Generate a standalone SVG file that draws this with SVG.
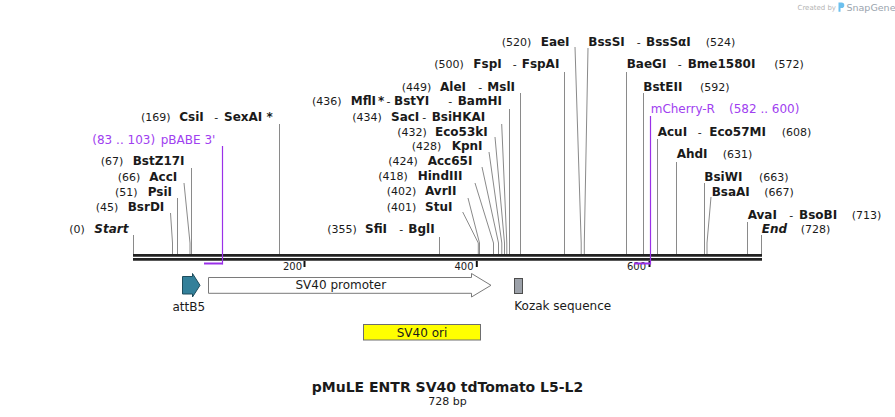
<svg xmlns="http://www.w3.org/2000/svg" width="895" height="417" viewBox="0 0 895 417">
<style>
text{font-family:"DejaVu Sans",Verdana,sans-serif;fill:#1a1a1a}
.n{font-size:11px}
.b{font-size:12px;font-weight:bold}
.h{font-size:11px}
.bi{font-size:12px;font-weight:bold;font-style:italic}
.p{font-size:12px;fill:#a040f0}
.f{font-size:12px}
.t{font-size:10px}
.cut{fill:none;stroke:#8a8a8a;stroke-width:1}
.pr{fill:none;stroke:#9a30e8}
.bb{stroke:#222;stroke-width:2.7}
.tick{stroke:#111;stroke-width:2}
</style>
<rect width="895" height="417" fill="#fff"/>
<g id="watermark">
<text x="797.5" y="10" style="font-size:7px;fill:#b4b4b4">Created by</text>
<path d="M838.5,2.5 h3 a2.7,2.7 0 0 1 0,5.6 h-1 v3.6 h-2 z" fill="#6cc0ee"/>
<text x="846.5" y="11" style="font-size:9.5px;fill:#9aa4ae">SnapGene</text>
</g>
<g id="backbone">
<line class="bb" x1="133" y1="255.3" x2="762" y2="255.3"/>
<line class="bb" x1="133" y1="259.4" x2="762" y2="259.4"/>
<line class="tick" x1="304.5" y1="261" x2="304.5" y2="267"/>
<line class="tick" x1="476.8" y1="261" x2="476.8" y2="267"/>
<line class="tick" x1="649.5" y1="261" x2="649.5" y2="267"/>
<text class="t" x="302" y="270" text-anchor="end">200</text>
<text class="t" x="473.5" y="270" text-anchor="end">400</text>
<text class="t" x="646" y="270" text-anchor="end">600</text>
</g>
<g id="connectors">
<polyline class="cut" points="133.5,235 133.5,254"/>
<polyline class="cut" points="170.5,213 172.5,243 172.5,254"/>
<polyline class="cut" points="177.5,198 177.5,254"/>
<polyline class="cut" points="184,183 190,243 190,254"/>
<polyline class="cut" points="191.5,168 191.5,254"/>
<polyline class="cut" points="279.5,124 279.5,254"/>
<polyline class="cut" points="439.5,237 439.5,254"/>
<polyline class="cut" points="462.7,212 478.3,243 478.3,254"/>
<polyline class="cut" points="468,198 479.5,243 479.5,254"/>
<polyline class="cut" points="475,183 493.5,243 493.5,254"/>
<polyline class="cut" points="482,167 498.5,243 498.5,254"/>
<polyline class="cut" points="489,152 501.8,243 501.8,254"/>
<polyline class="cut" points="495,137 504.5,243 504.5,254"/>
<polyline class="cut" points="501.7,124 506.8,243 506.8,254"/>
<polyline class="cut" points="509.5,109 509.5,254"/>
<polyline class="cut" points="520.5,93 520.5,254"/>
<polyline class="cut" points="564.5,72 564.5,254"/>
<polyline class="cut" points="575,47 581.2,243 581.2,254"/>
<polyline class="cut" points="588,48 584.3,243 584.3,254"/>
<polyline class="cut" points="626.5,72 626.5,254"/>
<polyline class="cut" points="643.5,93 643.5,254"/>
<polyline class="cut" points="657.5,139 657.5,254"/>
<polyline class="cut" points="676.5,162 676.5,254"/>
<polyline class="cut" points="704.5,183 704.5,254"/>
<polyline class="cut" points="711,197 707,243 707,254"/>
<polyline class="cut" points="747.5,222 747.5,254"/>
<polyline class="cut" points="761.5,235 761.5,254"/>
<polyline class="pr" stroke-width="1.2" points="222.5,146 222.5,264.5"/>
<line class="pr" stroke-width="2" x1="204" y1="263.5" x2="222.5" y2="263.5"/>
<polyline class="pr" stroke-width="1.2" points="650.5,116 650.5,264.5"/>
<line class="pr" stroke-width="2" x1="634" y1="263.5" x2="650.5" y2="263.5"/>
</g>
<g id="site-Start"><text y="233.3"><tspan class="n" x="69.3">(0)</tspan><tspan class="bi" x="94.3">Start</tspan></text></g>
<g id="site-BsrDI"><text y="211"><tspan class="n" x="95.7">(45)</tspan><tspan class="b" x="127.7">BsrDI</tspan></text></g>
<g id="site-PsiI"><text y="195.7"><tspan class="n" x="115">(51)</tspan><tspan class="b" x="147.7">PsiI</tspan></text></g>
<g id="site-AccI"><text y="180.7"><tspan class="n" x="117.7">(66)</tspan><tspan class="b" x="149.3">AccI</tspan></text></g>
<g id="site-BstZ17I"><text y="165"><tspan class="n" x="100.7">(67)</tspan><tspan class="b" x="132.7">BstZ17I</tspan></text></g>
<g id="primer-pBABE"><text class="p" y="144"><tspan x="92.3">(83 .. 103)</tspan><tspan x="160.7">pBABE 3'</tspan></text></g>
<g id="site-CsiI"><text y="121"><tspan class="n" x="141">(169)</tspan><tspan class="b" x="179.3">CsiI</tspan><tspan class="h" x="214.3">-</tspan><tspan class="b" x="224">SexAI *</tspan></text></g>
<g id="site-SfiI"><text y="233.3"><tspan class="n" x="327.3">(355)</tspan><tspan class="b" x="365">SfiI</tspan><tspan class="h" x="399.3">-</tspan><tspan class="b" x="408.3">BglI</tspan></text></g>
<g id="site-StuI"><text y="210.7"><tspan class="n" x="386.7">(401)</tspan><tspan class="b" x="425">StuI</tspan></text></g>
<g id="site-AvrII"><text y="195.3"><tspan class="n" x="386.7">(402)</tspan><tspan class="b" x="425">AvrII</tspan></text></g>
<g id="site-HindIII"><text y="180"><tspan class="n" x="378.3">(418)</tspan><tspan class="b" x="417.7">HindIII</tspan></text></g>
<g id="site-Acc65I"><text y="165"><tspan class="n" x="388.3">(424)</tspan><tspan class="b" x="427.7">Acc65I</tspan></text></g>
<g id="site-KpnI"><text y="150"><tspan class="n" x="411.7">(428)</tspan><tspan class="b" x="451.7">KpnI</tspan></text></g>
<g id="site-Eco53kI"><text y="136"><tspan class="n" x="397.3">(432)</tspan><tspan class="b" x="435">Eco53kI</tspan></text></g>
<g id="site-SacI"><text y="120.7"><tspan class="n" x="352.3">(434)</tspan><tspan class="b" x="391">SacI</tspan><tspan class="h" x="422.3">-</tspan><tspan class="b" x="431.7">BsiHKAI</tspan></text></g>
<g id="site-MflI"><text y="104.7"><tspan class="n" x="312">(436)</tspan><tspan class="b" x="350.7">MflI</tspan><tspan class="b" x="378">*</tspan><tspan class="h" x="386.5">-</tspan><tspan class="b" x="394">BstYI</tspan><tspan class="h" x="448.3">-</tspan><tspan class="b" x="457.7">BamHI</tspan></text></g>
<g id="site-AleI"><text y="90.7"><tspan class="n" x="401.7">(449)</tspan><tspan class="b" x="440">AleI</tspan><tspan class="h" x="478.3">-</tspan><tspan class="b" x="487.3">MslI</tspan></text></g>
<g id="site-FspI"><text y="68.3"><tspan class="n" x="434.3">(500)</tspan><tspan class="b" x="473.3">FspI</tspan><tspan class="h" x="512.7">-</tspan><tspan class="b" x="521.7">FspAI</tspan></text></g>
<g id="site-EaeI"><text y="45.7"><tspan class="n" x="501.7">(520)</tspan><tspan class="b" x="540.7">EaeI</tspan></text></g>
<g id="site-BssSI"><text y="45.7"><tspan class="b" x="588.3">BssSI</tspan><tspan class="h" x="636.7">-</tspan><tspan class="b" x="646">BssSαI</tspan><tspan class="n" x="705.7">(524)</tspan></text></g>
<g id="site-BaeGI"><text y="68.3"><tspan class="b" x="626.7">BaeGI</tspan><tspan class="h" x="677.7">-</tspan><tspan class="b" x="687.7">Bme1580I</tspan><tspan class="n" x="774.3">(572)</tspan></text></g>
<g id="site-BstEII"><text y="90.7"><tspan class="b" x="643.3">BstEII</tspan><tspan class="n" x="700">(592)</tspan></text></g>
<g id="primer-mCherry-R"><text class="p" y="113.3"><tspan x="650.7">mCherry-R</tspan><tspan x="729">(582 .. 600)</tspan></text></g>
<g id="site-AcuI"><text y="135.7"><tspan class="b" x="657.7">AcuI</tspan><tspan class="h" x="697.7">-</tspan><tspan class="b" x="709.3">Eco57MI</tspan><tspan class="n" x="781.7">(608)</tspan></text></g>
<g id="site-AhdI"><text y="158.3"><tspan class="b" x="676.7">AhdI</tspan><tspan class="n" x="722.7">(631)</tspan></text></g>
<g id="site-BsiWI"><text y="180.7"><tspan class="b" x="704.3">BsiWI</tspan><tspan class="n" x="759">(663)</tspan></text></g>
<g id="site-BsaAI"><text y="195.7"><tspan class="b" x="711.7">BsaAI</tspan><tspan class="n" x="764.3">(667)</tspan></text></g>
<g id="site-AvaI"><text y="219"><tspan class="b" x="747.7">AvaI</tspan><tspan class="h" x="789.3">-</tspan><tspan class="b" x="799">BsoBI</tspan><tspan class="n" x="851.7">(713)</tspan></text></g>
<g id="site-End"><text y="233.3"><tspan class="bi" x="761.7">End</tspan><tspan class="n" x="800.7">(728)</tspan></text></g>
<g id="feature-attB5">
<path d="M182.5,276.5 H192.5 V273.5 L200,285.3 L192.5,297 V294 H182.5 Z" fill="#33809a" stroke="#1e4d5d" stroke-width="1"/>
<text class="f" x="188.8" y="310.7" text-anchor="middle">attB5</text>
</g>
<g id="feature-SV40-promoter">
<path d="M208.5,277.5 H471.5 V273.5 L491,285.3 L471.5,297 V293.3 H208.5 Z" fill="#fff" stroke="#7a7a7a" stroke-width="1"/>
<text class="f" x="340.8" y="288.5" text-anchor="middle">SV40 promoter</text>
</g>
<g id="feature-Kozak">
<rect x="514.5" y="278.5" width="8" height="15" fill="#9ca1a9" stroke="#4d4d4d" stroke-width="1"/>
<text class="f" x="514.3" y="310">Kozak sequence</text>
</g>
<g id="feature-SV40-ori">
<rect x="363.5" y="324.5" width="117" height="15.5" fill="#ffff00" stroke="#6e6e6e" stroke-width="1"/>
<text class="f" x="422" y="336.5" text-anchor="middle">SV40 ori</text>
</g>
<g id="title">
<text x="447.5" y="391.5" text-anchor="middle" style="font-size:14px;font-weight:bold">pMuLE ENTR SV40 tdTomato L5-L2</text>
<text x="447.5" y="405" text-anchor="middle" style="font-size:11px">728 bp</text>
</g>
</svg>
